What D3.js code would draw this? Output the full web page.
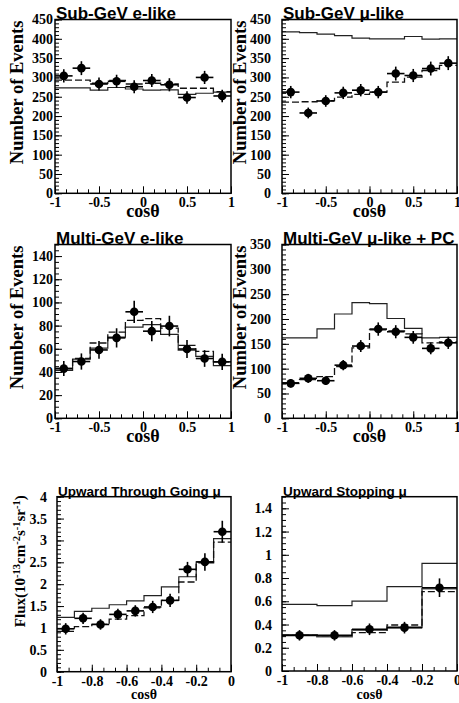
<!DOCTYPE html>
<html>
<head>
<meta charset="utf-8">
<script src="https://cdn.jsdelivr.net/npm/d3@7"></script>
<style>
  body { margin: 0; background: #fff; }
</style>
</head>
<body>
<div id="chart"></div>
<script>
// bin edges and bin centres (cos theta)
var edgesFull = [-1, -0.8, -0.6, -0.4, -0.2, 0, 0.2, 0.4, 0.6, 0.8, 1]
var centersFull = [-0.9, -0.7, -0.5, -0.3, -0.1, 0.1, 0.3, 0.5, 0.7, 0.9]
var edgesThru = [-1, -0.9, -0.8, -0.7, -0.6, -0.5, -0.4, -0.3, -0.2, -0.1, 0]
var centersThru = [-0.95, -0.85, -0.75, -0.65, -0.55, -0.45, -0.35, -0.25, -0.15, -0.05]
var edgesStop = [-1, -0.8, -0.6, -0.4, -0.2, 0]
var centersStop = [-0.9, -0.7, -0.5, -0.3, -0.1]

// tick labels
var ticksXFull = [-1, -0.5, 0, 0.5, 1]
var ticksXUp = [-1, -0.8, -0.6, -0.4, -0.2, 0]
var ticksY450 = [0, 50, 100, 150, 200, 250, 300, 350, 400, 450]
var ticksY140 = [0, 20, 40, 60, 80, 100, 120, 140]
var ticksY350 = [0, 50, 100, 150, 200, 250, 300, 350]
var ticksYFlux = [0, 0.5, 1, 1.5, 2, 2.5, 3, 3.5, 4]
var ticksYStop = [0, 0.2, 0.4, 0.6, 0.8, 1, 1.2, 1.4]

// Sub-GeV e-like
var subEData = [304, 324, 283, 290, 276, 292, 281, 248, 300, 252]
var subEErr = [17, 18, 17, 17, 17, 17, 17, 16, 17, 16]
var subENoOsc = [273, 273, 267, 274, 270, 267, 268, 256, 259, 262]
var subEFit = [293, 293, 285, 292, 283, 285, 283, 272, 272, 263]

// Sub-GeV mu-like
var subMuData = [262, 208, 239, 260, 267, 262, 310, 305, 323, 337]
var subMuErr = [16, 14, 15, 16, 16, 16, 18, 17, 18, 18]
var subMuNoOsc = [418, 416, 412, 408, 402, 400, 400, 406, 399, 400]
var subMuFit = [236, 237, 240, 249, 256, 262, 288, 301, 318, 331]

// Multi-GeV e-like
var mulEData = [42.9, 49, 59, 69.4, 91.9, 75.2, 79.6, 59.8, 51.6, 48.7]
var mulEErr = [6.5, 7, 7.7, 8.3, 9.6, 8.7, 8.9, 7.7, 7.2, 7]
var mulENoOsc = [41.4, 51, 60.6, 70, 78.7, 80.8, 72.5, 58.9, 53.5, 45.5]
var mulEFit = [43, 51.6, 65, 74.4, 84.5, 86, 77.8, 63, 57.7, 48.7]

// Multi-GeV mu-like + PC
var mulMuData = [70.4, 80.5, 75.7, 107, 145.5, 179.7, 174.3, 163, 140.8, 152]
var mulMuErr = [8.4, 9, 8.7, 10.3, 12, 13.4, 13.2, 12.8, 11.9, 12.3]
var mulMuNoOsc = [162, 162, 180, 210, 233, 231, 201, 181, 162, 163]
var mulMuFit = [72, 78, 84, 104, 142, 178, 176, 170, 152, 154]

// Upward through-going mu (flux)
var thruData = [0.98, 1.22, 1.08, 1.31, 1.39, 1.48, 1.63, 2.34, 2.51, 3.2]
var thruErr = [0.13, 0.13, 0.12, 0.13, 0.13, 0.14, 0.15, 0.17, 0.2, 0.25]
var thruNoOsc = [1.24, 1.38, 1.45, 1.53, 1.62, 1.74, 1.94, 2.17, 2.51, 3.04]
var thruFit = [0.92, 1.03, 1.08, 1.2, 1.28, 1.46, 1.63, 2.05, 2.49, 2.96]

// Upward stopping mu (flux)
var stopData = [0.307, 0.307, 0.359, 0.373, 0.717]
var stopErr = [0.045, 0.045, 0.05, 0.05, 0.08]
var stopNoOsc = [0.574, 0.562, 0.602, 0.726, 0.927]
var stopFit = [0.307, 0.305, 0.33, 0.396, 0.683]
var stopAlt = [0.31, 0.296, 0.353, 0.376, 0.71]

var width = 459
var height = 703
var serif = "'Liberation Serif', 'Times New Roman', serif"
var sans = "'Liberation Sans', Arial, sans-serif"

var panels = [
  {title: "Sub-GeV e-like", titleSize: 17, left: 55, right: 231, top: 19.5, bottom: 193.3,
   ymax: 450, yticks: ticksY450, yminor: 10, xticks: ticksXFull, xminor: 0.125, ypad: 2,
   edges: edgesFull, centers: centersFull, data: subEData, err: subEErr,
   noOsc: subENoOsc, fit: subEFit, ylabel: "events", ylx: 23, xlabelY: 216.5, xlabelSize: 18},
  {title: "Sub-GeV \u03bc-like", titleSize: 17, left: 282, right: 457, top: 19.5, bottom: 193.3,
   ymax: 450, yticks: ticksY450, yminor: 10, xticks: ticksXFull, xminor: 0.125, ypad: 11,
   edges: edgesFull, centers: centersFull, data: subMuData, err: subMuErr,
   noOsc: subMuNoOsc, fit: subMuFit, ylabel: "events", ylx: 246, xlabelY: 216.5, xlabelSize: 18},
  {title: "Multi-GeV e-like", titleSize: 17, left: 55, right: 231, top: 244.5, bottom: 418.3,
   ymax: 150, yticks: ticksY140, yminor: 5, xticks: ticksXFull, xminor: 0.125, ypad: 2,
   edges: edgesFull, centers: centersFull, data: mulEData, err: mulEErr,
   noOsc: mulENoOsc, fit: mulEFit, ylabel: "events", ylx: 23, xlabelY: 441.5, xlabelSize: 18},
  {title: "Multi-GeV \u03bc-like + PC", titleSize: 17, left: 282, right: 457, top: 244.5, bottom: 418.3,
   ymax: 350, yticks: ticksY350, yminor: 10, xticks: ticksXFull, xminor: 0.125, ypad: 11,
   edges: edgesFull, centers: centersFull, data: mulMuData, err: mulMuErr,
   noOsc: mulMuNoOsc, fit: mulMuFit, ylabel: "events", ylx: 246, xlabelY: 441.5, xlabelSize: 18},
  {title: "Upward Through Going \u03bc", titleSize: 13.5, left: 57, right: 231, top: 496.7, bottom: 671.7,
   ymax: 4, yticks: ticksYFlux, yminor: 0.1, xticks: ticksXUp, xminor: 0.2 / 3, ypad: 10,
   edges: edgesThru, centers: centersThru, data: thruData, err: thruErr,
   noOsc: thruNoOsc, fit: thruFit, ylabel: "flux", ylx: 25, xlabelY: 699, xlabelSize: 14},
  {title: "Upward Stopping \u03bc", titleSize: 13.5, left: 282, right: 457, top: 496.7, bottom: 671,
   ymax: 1.5, yticks: ticksYStop, yminor: 0.05, xticks: ticksXUp, xminor: 0.2 / 3, ypad: 10,
   edges: edgesStop, centers: centersStop, data: stopData, err: stopErr,
   noOsc: stopNoOsc, fit: stopFit, alt: stopAlt, ylabel: null, xlabelY: 699, xlabelSize: 14}
]

var svg = d3.select("#chart").append("svg")
  .attr("width", width)
  .attr("height", height)
  .style("background", "#fff")

panels.forEach(drawPanel)

// histogram as a step line over the bin edges
function stepPoints(edges, vals){
  var pts = vals.map(function(v, i){ return [edges[i], v] })
  pts.push([edges[edges.length - 1], vals[vals.length - 1]])
  return pts
}

function drawPanel(p){
  var x = d3.scaleLinear().domain([p.edges[0], p.edges[p.edges.length - 1]]).range([p.left, p.right])
  var y = d3.scaleLinear().domain([0, p.ymax]).range([p.bottom, p.top])
  var g = svg.append("g")

  // minor ticks (inward)
  var yMinor = d3.range(0, p.ymax + 1e-9, p.yminor)
  var xMinor = d3.range(x.domain()[0], x.domain()[1] + 1e-9, p.xminor)
  g.append("g")
    .attr("transform", `translate(${p.left},0)`)
    .call(d3.axisLeft(y).tickValues(yMinor).tickSize(-4).tickFormat(""))
  g.append("g")
    .attr("transform", `translate(0,${p.bottom})`)
    .call(d3.axisBottom(x).tickValues(xMinor).tickSize(-4).tickFormat(""))

  // major ticks + labels
  g.append("g")
    .attr("transform", `translate(${p.left},0)`)
    .call(d3.axisLeft(y).tickValues(p.yticks).tickSize(-7).tickPadding(p.ypad)
      .tickFormat(function(d){ return String(d) }))
  g.append("g")
    .attr("transform", `translate(0,${p.bottom})`)
    .call(d3.axisBottom(x).tickValues(p.xticks).tickSize(-7).tickPadding(4)
      .tickFormat(function(d){ return String(d) }))

  g.selectAll(".domain").remove()
  g.selectAll(".tick line").attr("stroke", "#000").attr("stroke-width", 1)
  g.selectAll(".tick text")
    .attr("fill", "#000")
    .style("font-family", serif)
    .style("font-weight", "bold")
    .style("font-size", "14px")

  // histograms
  var line = d3.line()
    .x(function(d){ return x(d[0]) })
    .y(function(d){ return y(d[1]) })
    .curve(d3.curveStepAfter)

  g.append("path")
    .attr("d", line(stepPoints(p.edges, p.noOsc)))
    .attr("fill", "none")
    .attr("stroke", "#222")
    .attr("stroke-width", 1.2)

  if (p.alt){
    g.append("path")
      .attr("d", line(stepPoints(p.edges, p.alt)))
      .attr("fill", "none")
      .attr("stroke", "#555")
      .attr("stroke-width", 1.8)
  }

  g.append("path")
    .attr("d", line(stepPoints(p.edges, p.fit)))
    .attr("fill", "none")
    .attr("stroke", "#111")
    .attr("stroke-width", 1.3)
    .attr("stroke-dasharray", "7,3")

  // data points with error bars
  var halfBin = (p.edges[1] - p.edges[0]) / 2
  var pts = g.append("g").selectAll("g")
    .data(p.centers.map(function(c, i){ return {c: c, v: p.data[i], e: p.err[i]} }))
    .join("g")
  pts.append("line")
    .attr("x1", function(d){ return x(d.c - halfBin) })
    .attr("x2", function(d){ return x(d.c + halfBin) })
    .attr("y1", function(d){ return y(d.v) })
    .attr("y2", function(d){ return y(d.v) })
    .attr("stroke", "#000").attr("stroke-width", 1.6)
  pts.append("line")
    .attr("x1", function(d){ return x(d.c) })
    .attr("x2", function(d){ return x(d.c) })
    .attr("y1", function(d){ return y(d.v - d.e) })
    .attr("y2", function(d){ return y(d.v + d.e) })
    .attr("stroke", "#000").attr("stroke-width", 1.6)
  pts.append("circle")
    .attr("cx", function(d){ return x(d.c) })
    .attr("cy", function(d){ return y(d.v) })
    .attr("r", 4.3)
    .attr("fill", "#000")

  // frame
  g.append("rect")
    .attr("x", p.left)
    .attr("y", p.top)
    .attr("width", p.right - p.left)
    .attr("height", p.bottom - p.top)
    .attr("fill", "none")
    .attr("stroke", "#000")
    .attr("stroke-width", 1.5)

  // title sits on the top frame line
  g.append("text")
    .attr("x", p.left + 1)
    .attr("y", p.top - 0.8)
    .style("font-family", sans)
    .style("font-weight", "bold")
    .style("font-size", p.titleSize + "px")
    .text(p.title)

  // x label
  g.append("text")
    .attr("x", (p.left + p.right) / 2)
    .attr("y", p.xlabelY)
    .attr("text-anchor", "middle")
    .style("font-family", serif)
    .style("font-weight", "bold")
    .style("font-size", p.xlabelSize + "px")
    .text("cos\u03b8")

  // y label
  var cy = (p.top + p.bottom) / 2 - (p.ylabel == "flux" ? 23 : 14)
  if (p.ylabel == "events"){
    g.append("text")
      .attr("transform", `translate(${p.ylx},${cy}) rotate(-90)`)
      .attr("text-anchor", "middle")
      .style("font-family", serif)
      .style("font-weight", "bold")
      .style("font-size", "18.5px")
      .text("Number of Events")
  } else if (p.ylabel == "flux"){
    var t = g.append("text")
      .attr("transform", `translate(${p.ylx},${cy}) rotate(-90)`)
      .attr("text-anchor", "middle")
      .style("font-family", serif)
      .style("font-weight", "bold")
      .style("font-size", "15px")
    var parts = [["Flux(10", 0], ["-13", 1], ["cm", 0], ["-2", 1], ["s", 0], ["-1", 1], ["sr", 0], ["-1", 1], [")", 0]]
    var prevSup = false
    parts.forEach(function(pt){
      var sup = pt[1] == 1
      var dy = 0
      if (sup && !prevSup) dy = -5.5
      if (!sup && prevSup) dy = 5.5
      t.append("tspan")
        .attr("dy", dy)
        .style("font-size", sup ? "10.5px" : "15px")
        .text(pt[0])
      prevSup = sup
    })
  }
}
</script>
</body>
</html>
